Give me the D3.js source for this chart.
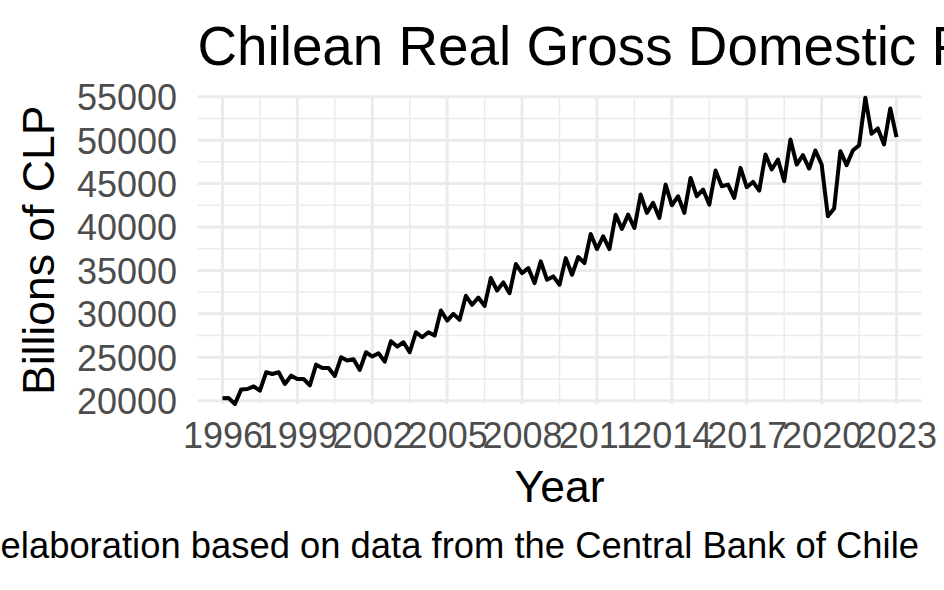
<!DOCTYPE html>
<html lang="en">
<head>
<meta charset="UTF-8">
<title>Chilean Real GDP</title>
<script src="https://d3js.org/d3.v7.min.js"></script>
<style>
    body { margin: 0; background: #fff; }
    svg { display: block; font-family: "Liberation Sans", Arial, sans-serif; }
    .grid-major { stroke: #ebebeb; stroke-width: 3px; }
    .grid-minor { stroke: #ebebeb; stroke-width: 1.5px; }
    .tick-label { font-size: 36px; fill: #4d4d4d; }
    .axis-title { font-size: 44.5px; fill: #000; }
    .line { fill: none; stroke: #000; stroke-width: 4px; stroke-linejoin: round; }
</style>
</head>
<body>
<div id="chart"></div>
<script>
    // quarterly real GDP, billions of CLP, starting 1996 Q1
    var startYear = 1996;
    var gdp = [
        20270, 20300, 19620, 21300,   // 1996
        21350, 21650, 21150, 23270,   // 1997
        23080, 23270, 21920, 22880,   // 1998
        22500, 22500, 21770, 24150,   // 1999
        23770, 23770, 22850, 25000,   // 2000
        24620, 24770, 23540, 25580,   // 2001
        25080, 25460, 24500, 26850,   // 2002
        26230, 26730, 25580, 27880,   // 2003
        27310, 27880, 27500, 30380,   // 2004
        29230, 30000, 29310, 32080,   // 2005
        31040, 31880, 30920, 34120,   // 2006
        32690, 33620, 32380, 35730,   // 2007
        34690, 35270, 33540, 36040,   // 2008
        33920, 34310, 33350, 36420,   // 2009
        34500, 36540, 35850, 39190,   // 2010
        37460, 38920, 37460, 41420,   // 2011
        39770, 41420, 39880, 43730,   // 2012
        41620, 42770, 41040, 44880,   // 2013
        42500, 43540, 41620, 45650,   // 2014
        43540, 44310, 42580, 46500,   // 2015
        44690, 44880, 43350, 46810,   // 2016
        44580, 45190, 44190, 48350,   // 2017
        46620, 47770, 45270, 50080,   // 2018
        47190, 48270, 46730, 48810,   // 2019
        47190, 41230, 42120, 48730,   // 2020
        47120, 48810, 49420, 54880,   // 2021
        50730, 51350, 49500, 53650,   // 2022
        50350                          // 2023
    ];
    var xTicks = [1996, 1999, 2002, 2005, 2008, 2011, 2014, 2017, 2020, 2023];
    var yTicks = [20000, 25000, 30000, 35000, 40000, 45000, 50000, 55000];

    var titleText = "Chilean Real Gross Domestic Product (quarterly)";
    var captionText = "Source: own elaboration based on data from the Central Bank of Chile";

    var W = 944, H = 590;
    var panel = { left: 197.5, right: 921.5, top: 96.7, bottom: 404 };

    var data = gdp.map(function (v, i) {
        return { time: startYear + i / 4, value: v };
    });

    var x = d3.scaleLinear()
        .domain([1995, 2024])
        .range([panel.left, panel.right]);

    var y = d3.scaleLinear()
        .domain([20000, 55000])
        .range([400.7, 96.7]);

    var svg = d3.select("#chart")
        .append("svg")
        .attr("width", W)
        .attr("height", H);

    // minor grid halfway between the major breaks
    var xMinor = xTicks.slice(0, -1).map(function (d) { return d + 1.5; })
        .concat([xTicks[0] - 1.5, xTicks[xTicks.length - 1] + 1.5])
        .filter(function (d) { return x(d) >= panel.left && x(d) <= panel.right; });
    var yMinor = yTicks.slice(0, -1).map(function (d) { return d + 2500; });

    var grid = svg.append("g");

    grid.selectAll(".hminor")
        .data(yMinor)
        .enter().append("line")
        .attr("class", "grid-minor")
        .attr("x1", panel.left).attr("x2", panel.right)
        .attr("y1", function (d) { return y(d); })
        .attr("y2", function (d) { return y(d); });

    grid.selectAll(".vminor")
        .data(xMinor)
        .enter().append("line")
        .attr("class", "grid-minor")
        .attr("y1", panel.top).attr("y2", panel.bottom)
        .attr("x1", function (d) { return x(d); })
        .attr("x2", function (d) { return x(d); });

    grid.selectAll(".hmajor")
        .data(yTicks)
        .enter().append("line")
        .attr("class", "grid-major")
        .attr("x1", panel.left).attr("x2", panel.right)
        .attr("y1", function (d) { return y(d); })
        .attr("y2", function (d) { return y(d); });

    grid.selectAll(".vmajor")
        .data(xTicks)
        .enter().append("line")
        .attr("class", "grid-major")
        .attr("y1", panel.top).attr("y2", panel.bottom)
        .attr("x1", function (d) { return x(d); })
        .attr("x2", function (d) { return x(d); });

    // axes: labels only, theme_minimal style
    var xAxis = svg.append("g")
        .attr("transform", "translate(0," + panel.bottom + ")")
        .call(d3.axisBottom(x).tickValues(xTicks).tickFormat(d3.format("d")).tickSize(0).tickPadding(0));
    xAxis.select(".domain").remove();
    xAxis.selectAll("text")
        .attr("class", "tick-label")
        .attr("dy", null)
        .attr("y", 44)
        .attr("font-size", null)
        .attr("fill", null);

    var yAxis = svg.append("g")
        .attr("transform", "translate(177,0)")
        .call(d3.axisLeft(y).tickValues(yTicks).tickFormat(d3.format("d")).tickSize(0).tickPadding(0));
    yAxis.select(".domain").remove();
    yAxis.selectAll("text")
        .attr("class", "tick-label")
        .attr("x", 0)
        .attr("dy", "0.36em")
        .attr("font-size", null)
        .attr("fill", null);
    xAxis.attr("font-family", null);
    yAxis.attr("font-family", null);

    var line = d3.line()
        .x(function (d) { return x(d.time); })
        .y(function (d) { return y(d.value); });

    svg.append("path")
        .datum(data)
        .attr("class", "line")
        .attr("d", line);

    // titles (title and caption run past the edges, as in the source image)
    svg.append("text")
        .attr("x", panel.left)
        .attr("y", 65)
        .style("font-size", "54.8px")
        .text(titleText);

    svg.append("text")
        .attr("class", "axis-title")
        .attr("x", (panel.left + panel.right) / 2)
        .attr("y", 502)
        .attr("text-anchor", "middle")
        .text("Year");

    svg.append("text")
        .attr("class", "axis-title")
        .attr("transform", "translate(54," + ((panel.top + panel.bottom) / 2) + ") rotate(-90)")
        .attr("text-anchor", "middle")
        .text("Billions of CLP");

    svg.append("text")
        .attr("x", 919)
        .attr("y", 558)
        .attr("text-anchor", "end")
        .style("font-size", "36.4px")
        .text(captionText);
</script>
</body>
</html>
